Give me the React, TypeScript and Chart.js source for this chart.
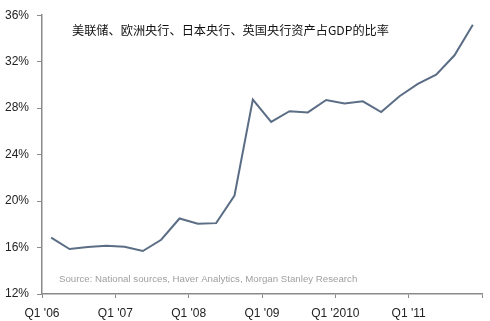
import React, { useEffect, useRef } from "react";
import { Chart, registerables } from "chart.js";

Chart.register(...registerables);

const quarters = [
  "Q1 '06", "Q2 '06", "Q3 '06", "Q4 '06",
  "Q1 '07", "Q2 '07", "Q3 '07", "Q4 '07",
  "Q1 '08", "Q2 '08", "Q3 '08", "Q4 '08",
  "Q1 '09", "Q2 '09", "Q3 '09", "Q4 '09",
  "Q1 '2010", "Q2 '2010", "Q3 '2010", "Q4 '2010",
  "Q1 '11", "Q2 '11", "Q3 '11", "Q4 '11",
];
const assetRatio = [
  16.86, 15.87, 16.05, 16.15, 16.07, 15.7, 16.67, 18.5,
  18.05, 18.1, 20.48, 28.73, 26.81, 27.74, 27.63, 28.7,
  28.39, 28.59, 27.66, 29.02, 30.09, 30.88, 32.55, 35.18,
];
const xTickLabels = ["Q1 '06", "Q1 '07", "Q1 '08", "Q1 '09", "Q1 '2010", "Q1 '11", ""];
const yTicks = [12, 16, 20, 24, 28, 32, 36];
const titleText = "美联储、欧洲央行、日本央行、英国央行资产占GDP的比率";
const sourceText = "Source: National sources, Haver Analytics, Morgan Stanley Research";

const textPlugin = {
  id: "overlayText",
  afterDraw(chart: any) {
    const ctx = chart.ctx;
    ctx.save();
    ctx.fillStyle = "#111";
    ctx.font = '12.2px "Noto Sans CJK SC"';
    ctx.textBaseline = "middle";
    ctx.textAlign = "left";
    ctx.fillText(titleText, 72, 30);
    ctx.fillStyle = "#a0a0a0";
    ctx.font = '9.7px "Liberation Sans"';
    ctx.fillText(sourceText, 59, 279);
    ctx.restore();
  },
};

export default function App() {
  const ref = useRef<HTMLCanvasElement | null>(null);
  useEffect(() => {
    if (!ref.current) return;
    const points = assetRatio.map((v, i) => ({ x: i + 0.5, y: v }));
    const chart = new Chart(ref.current, {
      type: "line",
      data: {
        labels: quarters,
        datasets: [
          {
            data: points,
            borderColor: "#5b6e85",
            borderWidth: 2,
            pointRadius: 0,
            tension: 0,
            fill: false,
          },
        ],
      },
      options: {
        animation: false,
        responsive: false,
        maintainAspectRatio: false,
        layout: { padding: { top: 11, right: 4, left: 0, bottom: 0 } },
        plugins: { legend: { display: false }, tooltip: { enabled: false }, title: { display: false } },
        scales: {
          x: {
            type: "linear",
            min: 0,
            max: quarters.length,
            afterBuildTicks(scale: any) {
              scale.ticks = xTickLabels.map((_, k) => ({ value: k * 4 }));
            },
            afterFit(scale: any) {
              scale.height = 27;
            },
            grid: {
              drawOnChartArea: false,
              drawTicks: true,
              tickLength: 4,
              color: "#8a8a8a",
            },
            border: { color: "#8a8a8a", width: 1.5 },
            ticks: {
              autoSkip: false,
              maxRotation: 0,
              padding: 8,
              color: "#222",
              font: { family: "Liberation Sans", size: 12 },
              callback: (v: any) => xTickLabels[Math.round(Number(v) / 4)] ?? "",
            },
          },
          y: {
            min: 12,
            max: 36,
            afterBuildTicks(scale: any) {
              scale.ticks = yTicks.map((v) => ({ value: v }));
            },
            afterFit(scale: any) {
              scale.width = 42;
            },
            grid: {
              drawOnChartArea: false,
              drawTicks: true,
              tickLength: 5,
              color: "#8a8a8a",
            },
            border: { color: "#8a8a8a", width: 1.5 },
            ticks: {
              padding: 8,
              color: "#222",
              font: { family: "Liberation Sans", size: 12 },
              callback: (v: any) => v + "%",
            },
          },
        },
      },
      plugins: [textPlugin],
    } as any);
    return () => chart.destroy();
  }, []);
  return (
    <div style={{ position: "fixed", left: 0, top: 0, width: 490, height: 321, background: "#fff" }}>
      <canvas ref={ref} width={490} height={321} style={{ display: "block", width: 490, height: 321 }} />
    </div>
  );
}
